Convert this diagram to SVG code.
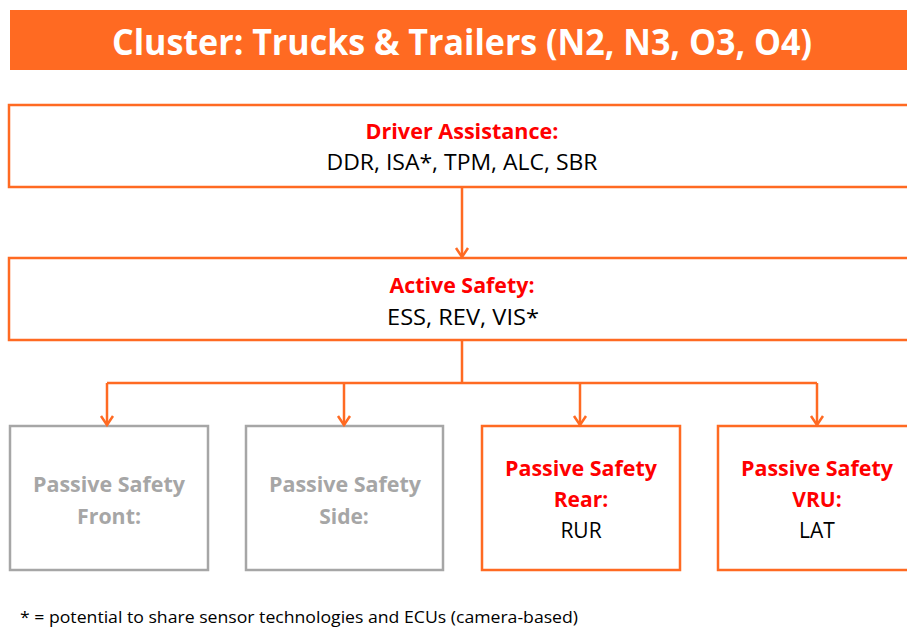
<svg xmlns="http://www.w3.org/2000/svg" width="907" height="628" viewBox="0 0 907 628">
<defs>
<style>
.box{fill:#fff;stroke:#FF6A22;stroke-width:2.5}
.gbox{fill:#fff;stroke:#A6A6A6;stroke-width:2.5}
.t{font-family:"Open Sans","Noto Sans","Liberation Sans",sans-serif;font-size:21px;text-anchor:middle}
.h{font-weight:bold;fill:#FF0000}
.g{font-weight:bold;fill:#A6A6A6}
.b{fill:#000}
.con{fill:none;stroke:#FF6A22;stroke-width:2.5}
</style>
<marker id="arr" markerUnits="userSpaceOnUse" markerWidth="14" markerHeight="16" refX="11" refY="8" orient="auto" viewBox="0 0 14 16">
<path d="M2,2 L11,8 L2,14" fill="none" stroke="#FF6A22" stroke-width="2.5"/>
</marker>
</defs>
<rect width="907" height="628" fill="#fff"/>
<g id="title">
<rect x="10" y="10" width="910" height="60" fill="#FF6A22"/>
<text x="462" y="55" class="t" style="font-size:36px;font-weight:bold;fill:#fff" textLength="700" lengthAdjust="spacingAndGlyphs">Cluster: Trucks &amp; Trailers (N2, N3, O3, O4)</text>
</g>
<g id="driver">
<rect x="9" y="105" width="910" height="82" class="box"/>
<text x="462" y="139" class="t h" textLength="193" lengthAdjust="spacingAndGlyphs">Driver Assistance:</text>
<text x="462" y="170" class="t b" textLength="271" lengthAdjust="spacingAndGlyphs">DDR, ISA*, TPM, ALC, SBR</text>
</g>
<g id="active">
<rect x="9" y="258" width="910" height="82" class="box"/>
<text x="462" y="293" class="t h" textLength="145" lengthAdjust="spacingAndGlyphs">Active Safety:</text>
<text x="463" y="325" class="t b" textLength="152" lengthAdjust="spacingAndGlyphs">ESS, REV, VIS*</text>
</g>
<g id="front">
<rect x="10" y="426" width="198" height="144" class="gbox"/>
<text x="109" y="492" class="t g" textLength="152" lengthAdjust="spacingAndGlyphs">Passive Safety</text>
<text x="109" y="524" class="t g" textLength="64" lengthAdjust="spacingAndGlyphs">Front:</text>
</g>
<g id="side">
<rect x="246" y="426" width="197" height="144" class="gbox"/>
<text x="345" y="492" class="t g" textLength="152" lengthAdjust="spacingAndGlyphs">Passive Safety</text>
<text x="344" y="524" class="t g">Side:</text>
</g>
<g id="rear">
<rect x="482" y="426" width="198" height="144" class="box"/>
<text x="581" y="476" class="t h" textLength="152" lengthAdjust="spacingAndGlyphs">Passive Safety</text>
<text x="581" y="507" class="t h">Rear:</text>
<text x="581" y="538" class="t b">RUR</text>
</g>
<g id="vru">
<rect x="718" y="426" width="198" height="144" class="box"/>
<text x="817" y="476" class="t h" textLength="152" lengthAdjust="spacingAndGlyphs">Passive Safety</text>
<text x="817" y="507" class="t h">VRU:</text>
<text x="817" y="538" class="t b">LAT</text>
</g>
<g id="connectors">
<path class="con" d="M462,187 V257" marker-end="url(#arr)"/>
<path class="con" d="M462,340 V383 M107,383 H817"/>
<path class="con" d="M107,383 V425" marker-end="url(#arr)"/>
<path class="con" d="M344,383 V425" marker-end="url(#arr)"/>
<path class="con" d="M580,383 V425" marker-end="url(#arr)"/>
<path class="con" d="M817,383 V425" marker-end="url(#arr)"/>
</g>
<text id="footnote" x="20" y="623" style="font-family:'Open Sans','Noto Sans',sans-serif;font-size:16px;fill:#000" textLength="558" lengthAdjust="spacingAndGlyphs">* = potential to share sensor technologies and ECUs (camera-based)</text>
</svg>
